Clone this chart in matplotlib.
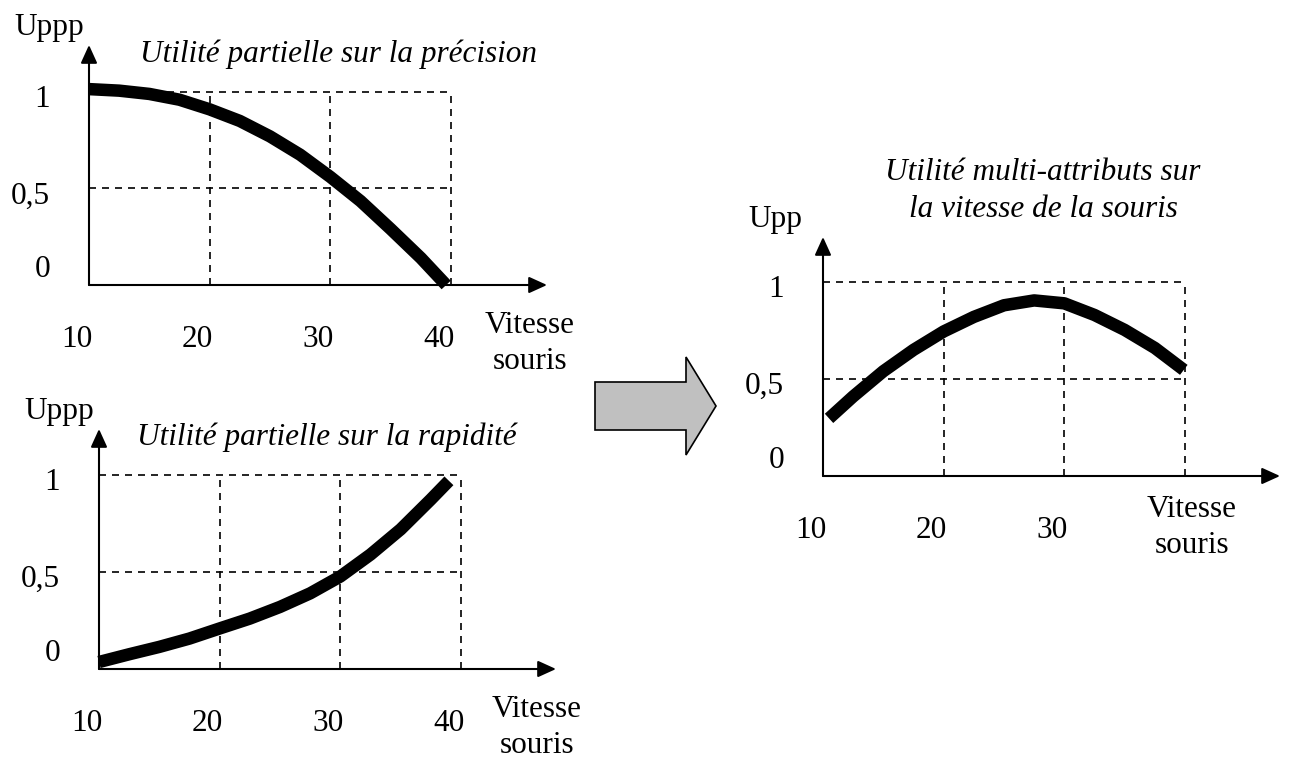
import matplotlib
matplotlib.use('Agg')
import matplotlib.pyplot as plt
from matplotlib.patches import Polygon

# Daten
prec_x = [10, 12.5, 15, 17.5, 20, 22.5, 25, 27.5, 30, 32.5, 35, 37.5, 39.6]
prec_y = [1.015, 1.007, 0.99, 0.96, 0.91, 0.85, 0.77, 0.675, 0.56, 0.435, 0.29, 0.14, 0.0]

rap_x = [10, 12.5, 15, 17.5, 20, 22.5, 25, 27.5, 30, 32.5, 35, 37.5, 39]
rap_y = [0.036, 0.076, 0.114, 0.157, 0.209, 0.26, 0.32, 0.39, 0.477, 0.59, 0.72, 0.874, 0.97]

multi_x = [10.5, 12.5, 15, 17.5, 20, 22.5, 25, 27.5, 30, 32.5, 35, 37.5, 39.9]
multi_y = [0.297, 0.41, 0.54, 0.65, 0.745, 0.82, 0.88, 0.905, 0.89, 0.83, 0.753, 0.66, 0.547]

x_ticks = [10, 20, 30, 40]
y_ticks = [0, 0.5, 1]
y_labels = ['0', '0,5', '1']

W, H = 1290, 758
plt.rcParams['font.family'] = ['Liberation Serif', 'DejaVu Serif']
fs = 22.5

fig = plt.figure(figsize=(W / 100, H / 100), dpi=100)


def fx(x):
    return x / W


def fy(y):
    return 1 - y / H


def chart(x0, x40, y0, y1, tip_x, tip_y, xs, ys, ylab, title, title_pos,
          xlab_ticks, vit_pos):
    ax = fig.add_axes([fx(x0), fy(y0), (x40 - x0) / W, (y0 - y1) / H])
    ax.set_xlim(10, 40)
    ax.set_ylim(0, 1)
    ax.axis('off')
    # Achsen mit Pfeilen
    ax_y_end = (y0 - tip_y) / (y0 - y1)
    ax_x_end = (tip_x - x0) / (x40 - x0)
    arrow = dict(arrowstyle='-|>,head_length=1.1,head_width=0.5', color='black',
                 lw=1.5, shrinkA=0, shrinkB=0, mutation_scale=10)
    ax.annotate('', xy=(0, ax_y_end), xytext=(0, 0), xycoords='axes fraction',
                arrowprops=arrow, annotation_clip=False)
    ax.annotate('', xy=(ax_x_end, 0), xytext=(0, 0), xycoords='axes fraction',
                arrowprops=arrow, annotation_clip=False)
    # gestricheltes Gitter
    for yt in y_ticks[1:]:
        ax.plot([x_ticks[0], x_ticks[-1]], [yt, yt], color='black', lw=1.2,
                dashes=(4.2, 3.6), clip_on=False)
    for xt in x_ticks[1:]:
        ax.plot([xt, xt], [0, y_ticks[-1]], color='black', lw=1.2,
                dashes=(4.2, 3.6), clip_on=False)
    # Kurve
    ax.plot(xs, ys, color='black', lw=9, solid_capstyle='butt',
            solid_joinstyle='round', clip_on=False)
    # Beschriftungen
    fig.text(fx(x0 - 75), fy(tip_y - 10), ylab, fontsize=fs, va='baseline')
    for yt, lab in zip(y_ticks, y_labels):
        ypx = y0 - yt * (y0 - y1)
        off = -8 if yt == 0 else 15
        fig.text(fx(x0 - 39), fy(ypx + off), lab,
                 fontsize=fs, ha='right', va='baseline')
    for xt in xlab_ticks:
        xpx = x0 + (xt - 10) / 30 * (x40 - x0)
        fig.text(fx(xpx - 12), fy(y0 + 62), str(xt), fontsize=fs,
                 ha='center', va='baseline')
    fig.text(fx(vit_pos[0]), fy(vit_pos[1]), 'Vitesse', fontsize=fs,
             ha='center', va='baseline')
    fig.text(fx(vit_pos[0]), fy(vit_pos[1] + 36), 'souris', fontsize=fs,
             ha='center', va='baseline')
    fig.text(fx(title_pos[0]), fy(title_pos[1]), title, fontsize=fs,
             style='italic', ha='center', va='baseline', linespacing=1.35)
    return ax


chart(89, 451, 285, 92, 547, 45, prec_x, prec_y, 'Uppp',
      'Utilité partielle sur la précision', (338, 62), x_ticks, (530, 333))
chart(99, 461, 669, 475, 556, 429, rap_x, rap_y, 'Uppp',
      'Utilité partielle sur la rapidité', (327, 445), x_ticks, (537, 717))
chart(823, 1185, 476, 282, 1280, 237, multi_x, multi_y, 'Upp',
      'Utilité multi-attributs sur\nla vitesse de la souris', (1043, 217),
      x_ticks[:3], (1192, 517))

# grauer Pfeil
pts = [(595, 382), (686, 382), (686, 357), (716, 406), (686, 455), (686, 430), (595, 430)]
fig.patches.append(Polygon([(fx(a), fy(b)) for a, b in pts], closed=True,
                           transform=fig.transFigure, facecolor='#c0c0c0',
                           edgecolor='black', lw=1.2))

fig.savefig('out.png', dpi=100)
